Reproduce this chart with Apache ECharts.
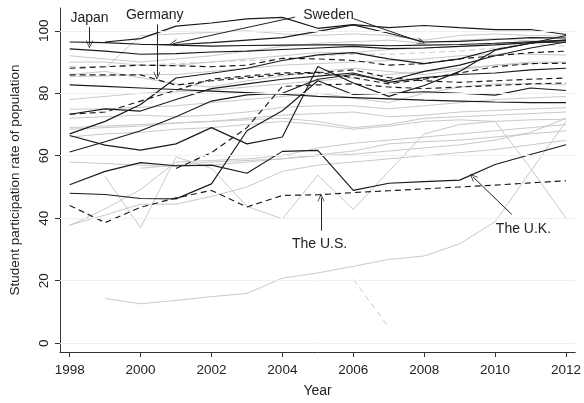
<!DOCTYPE html>
<html>
<head>
<meta charset="utf-8">
<script src="https://cdn.jsdelivr.net/npm/echarts@6/dist/echarts.min.js"></script>
<style>
  html, body { margin: 0; padding: 0; background: #fff; }
  #chart { width: 584px; height: 403px; }
</style>
</head>
<body>
<div id="chart"></div>
<script>
// Survey years on the x axis
const years = [1998, 1999, 2000, 2001, 2002, 2003, 2004, 2005, 2006, 2007, 2008, 2009, 2010, 2011, 2012];
const xTicks = [1998, 2000, 2002, 2004, 2006, 2008, 2010, 2012];
const yTicks = [0, 20, 40, 60, 80, 100];

// Highlighted countries (dark lines)
const japanA  = [96.4, 96.2, 95.7, 95.4, 95.1, 95.3, 95.4, 95.5, 95.5, 95.2, 95.4, 95.6, 96.0, 96.5, 97.0];
const japanB  = [94.2, 93.5, 92.5, 92.7, 93.2, 93.5, 94.0, 94.5, 95.0, 94.3, 94.5, 95.0, 95.5, 96.2, 96.4];
const sweden  = [null, null, 95.6, 95.6, 96.2, 97.0, 97.8, 99.8, 101.9, 99.2, 96.4, 96.6, 97.2, 97.8, 97.7];
const germany = [85.9, 85.9, 85.9, 82.6, 84.0, 85.0, 86.0, 86.5, 87.5, 85.0, 84.0, 83.5, 84.0, 84.5, 84.9];
const usa     = [44.1, 38.6, 43.5, 46.5, 48.9, 43.6, 47.3, 47.5, 48.2, 48.8, 49.4, 50.0, 50.6, 51.3, 52.0];
const uk      = [50.7, 55.0, 57.8, 56.8, 57.0, 54.4, 61.4, 61.7, 48.9, 51.2, 51.7, 52.2, 57.2, 60.4, 63.5];

// Other dark solid lines
const darkSolid = [
  [null, 96.4, 97.5, 101.5, 102.5, 103.8, 104.3, 100.8, 102.0, 101.0, 101.7, 101.0, 100.4, 100.4, 98.8],
  [82.7, 82.2, 81.7, 81.2, 80.7, 80.2, 79.7, 79.0, 78.6, 78.2, 77.8, 77.5, 77.2, 77.0, 77.0],
  [67.0, 71.0, 76.4, 84.9, 86.4, 88.0, 90.5, 92.3, 93.0, 91.0, 89.5, 91.0, 94.0, 96.0, 97.0],
  [61.2, 64.5, 68.0, 72.5, 77.5, 79.5, 80.0, 84.5, 86.0, 84.0, 87.0, 89.0, 92.0, 94.5, 96.4],
  [66.5, 63.4, 61.8, 63.8, 69.0, 63.8, 66.0, 88.6, 83.3, 79.0, 82.5, 87.0, 93.8, 96.0, 98.5],
  [48.0, 47.6, 46.3, 46.2, 51.0, 68.0, 74.4, 84.0, 79.6, 80.0, 80.5, 80.0, 79.4, 81.7, 80.9],
  [73.3, 75.0, 74.3, 78.0, 81.5, 83.0, 84.5, 85.5, 86.5, 83.5, 85.0, 86.0, 86.5, 87.5, 88.0]
];

// Other dark dashed lines
const darkDashed = [
  [88.0, 88.5, 89.0, 88.8, 88.5, 89.0, 91.2, 91.0, 90.5, 89.0, 89.5, 91.0, 92.0, 93.0, 93.5],
  [73.3, 74.0, 77.5, 81.0, 84.5, 85.5, 86.5, 86.7, 85.0, 83.0, 84.5, 86.5, 88.5, 89.5, 89.6],
  [null, null, null, 55.9, 61.0, 69.0, 82.2, 82.7, 83.0, 82.0, 81.5, 82.0, 82.5, 83.0, 83.3]
];

// Remaining countries (light lines)
const lightSolid = [
  [null, 14.3, 12.6, 13.7, 14.9, 15.9, 20.8, 22.5, 24.6, 26.8, 27.9, 31.8, 38.9, 55.0, 71.0],
  [null, 53.3, 37.0, 59.6, 56.0, 43.8, 39.8, 53.8, 42.8, 55.0, 67.0, 70.0, 71.0, 56.0, 40.0],
  [37.8, 41.0, 44.5, 44.5, 47.0, 50.0, 55.0, 57.0, 58.0, 59.0, 60.0, 61.0, 62.0, 63.5, 64.9],
  [37.6, 43.0, 49.2, 58.0, 58.5, 59.0, 60.0, 62.5, 64.0, 65.0, 66.0, 67.0, 68.0, 69.0, 70.0],
  [58.0, 57.5, 57.0, 56.5, 57.0, 58.0, 59.0, 60.0, 60.5, 61.5, 62.5, 63.5, 65.0, 67.5, 72.0],
  [69.0, 69.5, 70.0, 70.5, 71.0, 71.5, 72.0, 71.0, 69.0, 70.0, 72.0, 72.5, 73.0, 73.5, 74.0],
  [90.0, 90.0, 89.0, 89.0, 90.0, 91.0, 92.0, 93.0, 93.0, 94.0, 94.5, 95.0, 96.0, 96.5, 97.0],
  [null, 88.0, 98.5, 99.0, 99.5, 100.0, 99.0, 98.5, 99.0, 98.5, 97.0, 98.5, 99.0, 98.5, 98.3],
  [85.4, 85.5, 86.0, 86.0, 87.0, 88.0, 89.0, 89.5, 90.0, 90.5, 91.0, 92.0, 92.5, 92.5, 92.2],
  [78.0, 79.0, 80.0, 80.5, 81.0, 82.0, 83.0, 84.0, 85.0, 86.0, 87.0, 88.0, 89.0, 89.5, 90.0],
  [74.9, 75.0, 75.5, 76.0, 77.0, 78.0, 79.0, 80.0, 78.5, 77.0, 80.0, 82.0, 83.0, 83.0, 82.7],
  [72.0, 72.5, 73.0, 72.5, 73.0, 74.0, 75.5, 76.0, 76.0, 75.0, 76.0, 77.0, 78.0, 78.5, 79.0],
  [68.5, 69.0, 69.5, 70.5, 71.0, 72.0, 73.0, 73.5, 74.0, 72.5, 73.0, 74.0, 74.5, 75.0, 75.4],
  [66.0, 67.0, 67.5, 68.5, 69.0, 70.0, 71.0, 70.0, 68.5, 69.5, 71.0, 71.5, 71.0, 71.5, 71.7],
  [null, null, 56.0, 57.0, 58.0, 58.5, 59.0, 60.3, 61.5, 63.8, 64.5, 65.0, 66.0, 67.0, 68.0],
  [86.0, 87.0, 85.0, 83.0, 82.0, 84.0, 85.5, 87.0, 88.0, 87.0, 86.0, 87.5, 89.0, 90.0, 90.0],
  [92.0, 91.0, 90.0, 91.0, 92.0, 93.5, 95.0, 96.0, 96.5, 97.0, 96.0, 97.0, 97.5, 96.8, 96.4]
];
const lightDashed = [
  [88.5, 88.5, 89.0, 89.5, 90.0, 90.5, 91.0, 92.0, 92.5, 92.5, 93.0, 93.5, 94.5, 96.0, 95.0],
  [null, null, null, null, null, null, null, null, 20.4, 5.1, null, null, null, null, null]
];

// Country callouts: label position, arrow start and arrow end (year, rate)
const callouts = [
  { text: 'Japan',    label: [1998.56, 103.9], arrows: [[[1998.56, 101.2], [1998.56, 95.6]]] },
  { text: 'Germany',  label: [2000.40, 105.0], arrows: [[[2000.46, 102.0], [2000.46, 85.6]]] },
  { text: 'Sweden',   label: [2005.30, 105.0], arrows: [[[2004.36, 104.4], [2000.92, 95.9]],
                                                       [[2006.00, 103.9], [2007.92, 96.4]]] },
  { text: 'The U.S.', label: [2005.05, 31.6],  arrows: [[[2005.09, 36.0], [2005.09, 46.6]]] },
  { text: 'The U.K.', label: [2010.80, 36.5],  arrows: [[[2010.47, 41.2], [2009.37, 53.3]]] }
];

const DARK = '#1a1a1a';
const LIGHT = '#c9c9c9';
const FONT = 'Liberation Sans, Arial, Helvetica, sans-serif';

function pairs(vals) {
  return years.map((y, i) => [y, vals[i]]).filter(p => p[1] != null);
}
function lineSeries(name, vals, color, width, dashed, z) {
  return {
    name: name, type: 'line', data: pairs(vals), symbol: 'none', silent: true,
    lineStyle: { color: color, width: width, type: dashed ? [6, 4] : 'solid' },
    z: z, animation: false
  };
}

const series = [];
// Horizontal reference lines
series.push({
  type: 'line', data: [], silent: true, z: 1,
  markLine: {
    silent: true, symbol: 'none', animation: false,
    label: { show: false },
    lineStyle: { color: '#efefef', width: 1, type: 'solid' },
    data: yTicks.map(v => ({ yAxis: v }))
  }
});
lightSolid.forEach((v, i) => series.push(lineSeries('light' + i, v, LIGHT, 1, false, 2)));
lightDashed.forEach((v, i) => series.push(lineSeries('lightDash' + i, v, LIGHT, 1, true, 2)));
darkSolid.forEach((v, i) => series.push(lineSeries('dark' + i, v, DARK, 1.15, false, 3)));
darkDashed.forEach((v, i) => series.push(lineSeries('darkDash' + i, v, DARK, 1.15, true, 3)));
series.push(lineSeries('Japan A', japanA, DARK, 1.15, false, 3));
series.push(lineSeries('Japan B', japanB, DARK, 1.15, false, 3));
series.push(lineSeries('Sweden', sweden, DARK, 1.15, false, 3));
series.push(lineSeries('Germany', germany, DARK, 1.15, true, 3));
series.push(lineSeries('The U.S.', usa, DARK, 1.15, true, 3));
series.push(lineSeries('The U.K.', uk, DARK, 1.15, false, 3));

// Callout arrows and their labels
const arrowHead = 'path://M0,0 L6,10 L4.8,10 L0,2.4 L-4.8,10 L-6,10 Z';
series.push({
  type: 'line', data: [], silent: true, z: 5,
  markLine: {
    silent: true, animation: false,
    symbol: ['none', arrowHead], symbolSize: [7, 8],
    label: { show: false },
    lineStyle: { color: '#222', width: 1, type: 'solid' },
    data: callouts.flatMap(c => c.arrows.map(a => [{ coord: a[0] }, { coord: a[1] }]))
  },
  markPoint: {
    silent: true, animation: false, symbol: 'circle', symbolSize: 1,
    itemStyle: { color: 'rgba(0,0,0,0)' },
    label: { show: true, position: 'inside', formatter: '{b}', color: '#222', fontSize: 14, fontFamily: FONT },
    data: callouts.map(c => ({ name: c.text, coord: c.label }))
  }
});

const chart = echarts.init(document.getElementById('chart'), null, { renderer: 'canvas' });
chart.setOption({
  animation: false,
  backgroundColor: '#fff',
  grid: { left: 58, right: 7, top: 8, bottom: 45, containLabel: false },
  xAxis: {
    type: 'value', min: 1997.728, max: 2012.26,
    name: 'Year', nameLocation: 'middle', nameGap: 32,
    nameTextStyle: { color: '#222', fontSize: 14, fontFamily: FONT },
    axisLine: { show: true, onZero: false, lineStyle: { color: '#333', width: 1 } },
    axisTick: { show: true, length: 5, customValues: xTicks, lineStyle: { color: '#333' } },
    axisLabel: { customValues: xTicks, margin: 11, color: '#222', fontSize: 13.5, fontFamily: FONT, formatter: v => String(v) },
    splitLine: { show: false }
  },
  yAxis: {
    type: 'value', min: -2.83, max: 107.3,
    name: 'Student participation rate of population', nameLocation: 'middle', nameGap: 38,
    nameTextStyle: { color: '#222', fontSize: 13.5, fontFamily: FONT },
    axisLine: { show: true, onZero: false, lineStyle: { color: '#333', width: 1 } },
    axisTick: { show: true, length: 5, customValues: yTicks, lineStyle: { color: '#333' } },
    axisLabel: { customValues: yTicks, rotate: 90, margin: 9, color: '#222', fontSize: 13.5, fontFamily: FONT },
    splitLine: { show: false }
  },
  series: series
});
</script>
</body>
</html>
